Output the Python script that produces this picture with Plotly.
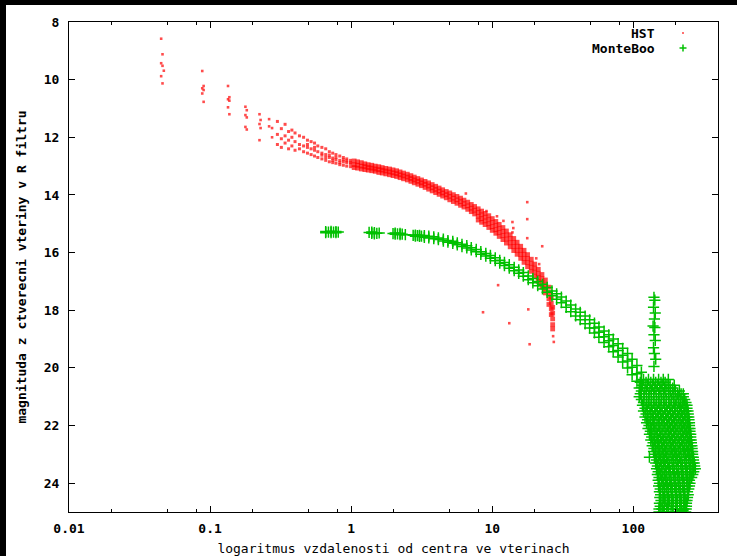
import plotly.graph_objects as go

# ---------------- HST (red dots) ----------------
# sparse bright stars near the centre: (distance ["], [R magnitudes])
hst_inner = [
    (0.045, [8.58, 9.43, 9.88]),
    (0.046, [9.12, 9.52, 10.13]),
    (0.047, [9.69]),
    (0.088, [9.70, 10.30, 10.48]),
    (0.090, [10.22, 10.36, 10.77]),
    (0.134, [10.22, 10.68, 10.96]),
    (0.137, [10.61, 10.73, 11.20]),
    (0.178, [10.94, 11.23, 11.64]),
    (0.182, [11.06, 11.31, 11.73]),
    (0.224, [11.20, 11.54, 12.10]),
    (0.228, [11.40, 11.68]),
    (0.262, [11.37, 11.62]),
    (0.275, [11.68, 12.00]),
]

# scattered part of the HST sequence: (distance ["], [R magnitudes])
hst_sparse = [
    (0.30, [11.45, 11.90, 12.25]), (0.32, [11.70, 12.05, 12.35]),
    (0.34, [11.55, 11.95, 12.20]), (0.36, [11.80, 12.10, 12.40]),
    (0.38, [11.75, 12.00, 12.30]), (0.40, [11.85, 12.15, 12.45]),
    (0.43, [11.95, 12.25, 12.40]), (0.46, [12.00, 12.30, 12.50]),
    (0.49, [12.10, 12.25, 12.35, 12.55]), (0.52, [12.15, 12.40, 12.60]),
    (0.55, [12.20, 12.35, 12.45, 12.65]), (0.58, [12.30, 12.50, 12.70]),
    (0.62, [12.35, 12.55, 12.62, 12.75]), (0.66, [12.40, 12.60, 12.70, 12.80]),
    (0.70, [12.50, 12.62, 12.70, 12.85]), (0.74, [12.55, 12.72, 12.80, 12.88]),
    (0.78, [12.60, 12.70, 12.78, 12.90]), (0.83, [12.65, 12.80, 12.88, 12.95]),
    (0.88, [12.70, 12.78, 12.85, 12.97]), (0.93, [12.75, 12.82, 12.88, 13.00]),
    (0.99, [12.80, 12.87, 12.92, 13.02]),
]

# dense part of the HST sequence: (distance ["], [R magnitudes])
hst_band = [
    (1.05, [12.82, 12.95, 13.05]),
    (1.11, [12.85, 12.97, 13.07]), (1.18, [12.88, 13.00, 13.10]),
    (1.25, [12.92, 13.02, 13.12]), (1.32, [12.95, 13.05, 13.14]),
    (1.40, [12.97, 13.07, 13.16]), (1.48, [13.00, 13.10, 13.18]),
    (1.57, [13.02, 13.12, 13.22]), (1.66, [13.05, 13.14, 13.24]),
    (1.76, [13.08, 13.17, 13.27]), (1.87, [13.10, 13.20, 13.30]),
    (1.98, [13.13, 13.23, 13.33]), (2.10, [13.16, 13.26, 13.36]),
    (2.22, [13.20, 13.30, 13.40]), (2.35, [13.24, 13.34, 13.44]),
    (2.50, [13.28, 13.38, 13.48]), (2.65, [13.33, 13.43, 13.53]),
    (2.80, [13.38, 13.48, 13.58]), (2.97, [13.43, 13.53, 13.63]),
    (3.15, [13.48, 13.58, 13.68]), (3.34, [13.53, 13.63, 13.74]),
    (3.54, [13.58, 13.69, 13.80]), (3.75, [13.64, 13.75, 13.86]),
    (3.97, [13.70, 13.81, 13.92]), (4.20, [13.76, 13.87, 13.98]),
    (4.45, [13.82, 13.93, 14.04]), (4.72, [13.88, 13.99, 14.10]),
    (5.00, [13.93, 14.05, 14.17]), (5.30, [13.99, 14.11, 14.23]),
    (5.62, [14.05, 14.17, 14.29]), (5.96, [14.11, 14.23, 14.36]),
    (6.30, [14.18, 14.30, 14.42]), (6.70, [14.25, 14.38, 14.50]),
    (7.10, [14.33, 14.46, 14.58]), (7.50, [14.40, 14.53, 14.66]),
    (7.95, [14.48, 14.61, 14.74, 14.87]), (8.40, [14.56, 14.69, 14.82, 14.95]),
    (8.90, [14.64, 14.77, 14.90, 15.03]), (9.45, [14.72, 14.86, 15.00, 15.13]),
    (10.0, [14.82, 14.96, 15.10, 15.23]), (10.6, [14.92, 15.06, 15.20, 15.33]),
    (11.2, [15.02, 15.16, 15.30, 15.44]), (11.9, [15.13, 15.27, 15.41, 15.55]),
    (12.6, [15.25, 15.39, 15.53, 15.67]), (13.4, [15.38, 15.52, 15.66, 15.80]),
    (14.2, [15.51, 15.65, 15.79, 15.93]), (15.0, [15.64, 15.78, 15.92, 16.06]),
    (15.9, [15.78, 15.92, 16.06, 16.20]), (16.8, [15.92, 16.06, 16.20, 16.34]),
    (17.8, [16.07, 16.21, 16.35, 16.49]), (18.9, [16.23, 16.37, 16.51, 16.65]),
    (20.0, [16.40, 16.54, 16.68, 16.82]), (21.2, [16.58, 16.72, 16.86, 17.00]),
    (22.5, [16.76, 16.90, 17.04, 17.18]), (23.8, [16.95, 17.10, 17.25, 17.40]),
    (25.2, [17.20, 17.40, 17.60, 17.80]), (26.2, [17.55, 17.75, 17.95, 18.15]),
    (26.8, [17.90, 18.10, 18.30, 18.50, 18.65]),
]

hst_out_x = [17.7, 17.7, 17.7, 13.9, 13.9, 22.6, 10.8, 11.0, 8.6, 13.2, 18.0, 18.4,
             27.3, 9.1, 14.1, 20.5, 21.5, 27.0, 6.5, 12.0]
hst_out_y = [14.25, 14.84, 15.50, 14.94, 15.30, 15.78, 14.74, 17.13, 18.07, 18.45, 17.97, 19.18,
             19.10, 14.56, 15.15, 16.20, 16.40, 18.90, 13.95, 14.90]

# ---------------- MonteBoo (green plus) ----------------
mb_clumps = [
    (0.66, [15.27, 15.31]), (0.69, [15.29]), (0.72, [15.26, 15.31]), (0.75, [15.29]),
    (0.78, [15.27, 15.31]), (0.81, [15.29]),
    (1.34, [15.30]), (1.40, [15.29, 15.33]), (1.46, [15.31, 15.35]), (1.52, [15.33]), (1.58, [15.32]),
    (1.98, [15.34]), (2.05, [15.32, 15.36]), (2.13, [15.35]), (2.22, [15.33, 15.38]),
    (2.30, [15.36]), (2.42, [15.38]),
    (2.75, [15.40]), (2.85, [15.39, 15.43]), (2.95, [15.41]), (3.05, [15.40, 15.44]), (3.15, [15.43]),
]

mb_band = [
    (3.30, [15.41, 15.47]), (3.55, [15.43, 15.49]), (3.85, [15.45, 15.52]),
    (4.15, [15.49, 15.55]), (4.50, [15.53, 15.60]), (4.85, [15.58, 15.64]),
    (5.25, [15.61, 15.68]), (5.65, [15.66, 15.73]), (6.10, [15.71, 15.79]),
    (6.60, [15.76, 15.84]), (7.10, [15.83, 15.91]), (7.70, [15.89, 15.97]),
    (8.30, [15.97, 16.06]), (9.00, [16.03, 16.12]), (9.70, [16.10, 16.20]),
    (10.5, [16.18, 16.28]), (11.3, [16.27, 16.37]), (12.2, [16.34, 16.45]),
    (13.2, [16.42, 16.54]), (14.3, [16.51, 16.63]), (15.4, [16.60, 16.72]),
    (16.6, [16.69, 16.82]), (18.0, [16.81, 16.94]), (19.4, [16.90, 17.05]),
    (21.0, [17.00, 17.15]), (22.7, [17.10, 17.26]), (24.5, [17.21, 17.38]),
    (26.5, [17.33, 17.50]), (28.6, [17.43, 17.62]), (30.9, [17.54, 17.74]),
    (33.4, [17.68, 17.90]), (36.0, [17.82, 18.05]), (39.0, [17.96, 18.20]),
    (42.0, [18.07, 18.33]), (45.5, [18.20, 18.47]), (49.0, [18.33, 18.62]),
    (53.0, [18.45, 18.62, 18.79]), (57.0, [18.58, 18.76, 18.94]),
    (62.0, [18.72, 18.92, 19.12]), (67.0, [18.85, 19.06, 19.27]),
    (72.0, [19.00, 19.22, 19.44]), (78.0, [19.16, 19.40, 19.62]),
    (84.0, [19.32, 19.56, 19.80]), (91.0, [19.50, 19.76, 20.00]),
    (98.0, [19.70, 19.98, 20.24]), (106.0, [19.92, 20.20, 20.46]),
    (114.0, [20.15, 20.42, 20.68]),
]

# outer blob, main rows: (R magnitude, [distances ["]])
mb_blob = [
    (20.4, [118, 128, 139, 151, 163]),
    (20.6, [116, 126, 137, 148, 160, 173, 182]),
    (20.8, [114, 124, 134, 145, 157, 170, 184, 199]),
    (21.0, [110, 119, 129, 140, 152, 165, 179, 194, 210, 226]),
    (21.2, [118, 128, 139, 151, 164, 178, 193, 208, 224, 236]),
    (21.4, [121, 131, 142, 154, 167, 181, 196, 212, 228, 240]),
    (21.6, [123, 133, 144, 156, 169, 183, 198, 214, 231, 245]),
    (21.8, [126, 136, 147, 159, 172, 186, 201, 217, 233, 248]),
    (22.0, [129, 139, 150, 162, 175, 189, 204, 220, 236, 250]),
    (22.2, [132, 142, 153, 165, 178, 192, 207, 223, 239, 252]),
    (22.4, [135, 145, 156, 168, 181, 195, 210, 226, 242, 255]),
    (22.6, [138, 148, 159, 171, 184, 198, 213, 229, 245, 258]),
    (22.8, [140, 150, 161, 173, 186, 200, 215, 231, 247, 261]),
    (23.0, [143, 153, 164, 176, 189, 203, 218, 234, 250, 263]),
    (23.2, [146, 156, 167, 179, 192, 206, 221, 237, 253, 267]),
    (23.4, [148, 158, 169, 181, 194, 208, 223, 239, 256, 272]),
    (23.6, [150, 160, 171, 183, 196, 210, 225, 241, 256, 268]),
    (23.8, [152, 162, 173, 185, 198, 212, 227, 243, 259]),
    (24.0, [153, 164, 175, 187, 200, 214, 229, 244, 252]),
    (24.2, [155, 166, 177, 189, 202, 216, 231, 247]),
    (24.4, [156, 167, 178, 190, 203, 217, 232, 245]),
    (24.6, [157, 168, 180, 192, 205, 219, 233, 240]),
    (24.8, [155, 166, 178, 191, 204, 218, 230, 238]),
    (25.0, [152, 163, 176, 190, 205, 220, 235]),
]

# outer blob, in-between rows
mb_blob_mid = [
    (20.5, [112, 123, 133, 144, 157, 168]),
    (20.7, [110, 121, 131, 142, 154, 166, 178, 190]),
    (20.9, [112, 119, 129, 139, 151, 163, 177, 191, 206, 218]),
    (21.1, [114, 124, 134, 146, 158, 171, 186, 201, 217, 231]),
    (21.3, [116, 124, 134, 145, 157, 171, 185, 200, 216, 232, 240]),
    (21.5, [118, 126, 136, 148, 160, 174, 189, 205, 220, 236, 244]),
    (21.7, [121, 129, 139, 151, 163, 177, 192, 208, 224, 240, 247]),
    (21.9, [124, 132, 142, 154, 166, 180, 195, 211, 226, 242, 250]),
    (22.1, [127, 135, 145, 157, 170, 183, 198, 214, 230, 245, 252]),
    (22.3, [130, 138, 148, 160, 173, 186, 201, 217, 233, 248, 255]),
    (22.5, [133, 141, 151, 163, 176, 189, 204, 220, 236, 251, 257]),
    (22.7, [136, 144, 154, 166, 179, 192, 207, 223, 239, 254, 260]),
    (22.9, [139, 147, 157, 169, 182, 195, 210, 226, 242, 257, 263]),
    (23.1, [141, 150, 160, 172, 185, 198, 213, 229, 245, 260, 266]),
    (23.3, [144, 152, 163, 175, 188, 201, 216, 232, 248, 264, 270]),
    (23.5, [146, 154, 165, 177, 190, 203, 218, 234, 250, 265, 275]),
    (23.7, [148, 156, 167, 179, 192, 205, 220, 236, 252, 264]),
    (23.9, [150, 158, 169, 181, 194, 207, 222, 238, 250]),
    (24.1, [151, 160, 171, 183, 196, 209, 224, 240, 250]),
    (24.3, [153, 162, 173, 185, 198, 211, 226, 242]),
    (24.5, [154, 163, 175, 187, 200, 213, 228, 242]),
    (24.7, [153, 162, 174, 187, 200, 214, 228, 238]),
    (24.9, [152, 160, 172, 185, 199, 213, 228, 237]),
]

mb_streak_x = [140, 142, 139, 143, 141, 138, 142, 140, 143, 139, 141, 144, 140]
mb_streak_y = [17.55, 17.65, 17.90, 18.10, 18.30, 18.55, 18.60, 18.85, 19.05, 19.30, 19.50, 19.70, 19.95]

mb_out_x = [130, 226, 177, 195, 212, 160, 225]
mb_out_y = [23.10, 20.90, 20.40, 20.60, 20.80, 24.90, 24.95]

x_tick_vals = [0.01, 0.1, 1, 10, 100]
x_tick_text = ["0.01", "0.1", "1", "10", "100"]
x_minor_vals = [0.02, 0.05, 0.08, 0.2, 0.5, 0.8, 2, 5, 8, 20, 50, 80, 200]
y_tick_vals = [8, 10, 12, 14, 16, 18, 20, 22, 24]


def from_columns(cols):
    xs, ys = [], []
    for x, yl in cols:
        for y in yl:
            xs.append(x)
            ys.append(y)
    return xs, ys


def from_rows(rows):
    xs, ys = [], []
    for y, xl in rows:
        for x in xl:
            xs.append(x)
            ys.append(y)
    return xs, ys


hx1, hy1 = from_columns(hst_inner)
hx2, hy2 = from_columns(hst_sparse)
hx3, hy3 = from_columns(hst_band)
hst_x = hx1 + hx2 + hx3 + hst_out_x
hst_y = hy1 + hy2 + hy3 + hst_out_y
# dot size: tiny for isolated stars, larger where the sequence is dense
hst_size = [2.6] * len(hx1) + [3.0] * len(hx2) + [4.8] * len(hx3) + [2.6] * len(hst_out_x)

mx1, my1 = from_columns(mb_clumps)
mx2, my2 = from_columns(mb_band)
mx3, my3 = from_rows(mb_blob)
mx4, my4 = from_rows(mb_blob_mid)
mb_x = mx1 + mx2 + mx3 + mx4 + mb_streak_x + mb_out_x
mb_y = my1 + my2 + my3 + my4 + mb_streak_y + mb_out_y

RED = "#ff0000"
GREEN = "#00c000"
MONO = "DejaVu Sans Mono"

fig = go.Figure()
fig.add_trace(go.Scatter(
    x=hst_x, y=hst_y, mode="markers", name="HST", showlegend=False,
    marker=dict(symbol="square", size=hst_size, color=RED, line=dict(width=0)),
))
fig.add_trace(go.Scatter(
    x=mb_x, y=mb_y, mode="markers", name="MonteBoo", showlegend=False,
    marker=dict(symbol="cross-thin", size=8, color=GREEN, line=dict(width=1.5, color=GREEN)),
))

# page has a black strip 5px at the top and 6px at the left (added as page borders);
# figure itself is the remaining area. Plot area in page pixels: x 69..718, y 22..512
TOPBAR, LEFTBAR = 5, 6
W, H = 737 - LEFTBAR, 556 - TOPBAR
L, R, T, B = 69 - LEFTBAR, 718 - LEFTBAR, 22 - TOPBAR, 512 - TOPBAR


def px(xp):
    # page pixel x -> paper
    return (xp - LEFTBAR - L) / (R - L)


def py(yp):
    # page pixel y -> paper
    return (B - (yp - TOPBAR)) / (B - T)


shapes = [
    # legend samples
    dict(type="rect", xref="paper", yref="paper", x0=px(682), x1=px(684), y0=py(34), y1=py(32),
         fillcolor="#ff7070", line=dict(width=0)),
    dict(type="line", xref="paper", yref="paper", x0=px(679.5), x1=px(686.5), y0=py(48), y1=py(48),
         line=dict(color=GREEN, width=1.5)),
    dict(type="line", xref="paper", yref="paper", x0=px(683), x1=px(683), y0=py(44.5), y1=py(51.5),
         line=dict(color=GREEN, width=1.5)),
]

annotations = [
    dict(text="<b>HST</b>", xref="paper", yref="paper", x=px(657), y=py(33.5),
         xanchor="right", yanchor="middle", showarrow=False,
         font=dict(family=MONO, size=13, color="black")),
    dict(text="<b>MonteBoo</b>", xref="paper", yref="paper", x=px(657), y=py(48.5),
         xanchor="right", yanchor="middle", showarrow=False,
         font=dict(family=MONO, size=13, color="black")),
]

fig.update_layout(
    template="none",
    width=W, height=H,
    margin=dict(l=L, r=W - R, t=T, b=H - B, pad=0),
    paper_bgcolor="white", plot_bgcolor="white",
    showlegend=False,
    shapes=shapes,
    annotations=annotations,
    xaxis=dict(
        type="log", range=[-2, 2.6],
        tickmode="array", tickvals=x_tick_vals, ticktext=x_tick_text,
        ticks="inside", ticklen=6, tickwidth=1, tickcolor="black",
        minor=dict(tickmode="array", tickvals=x_minor_vals, ticks="inside",
                   ticklen=3, tickwidth=1, tickcolor="black", showgrid=False),
        showline=True, linecolor="black", linewidth=1, mirror="ticks",
        showgrid=False, zeroline=False, automargin=False,
        ticklabelstandoff=4,
        tickfont=dict(family=MONO, size=13, color="black", weight="bold"),
        title=dict(text="logaritmus vzdalenosti od centra ve vterinach",
                   font=dict(family=MONO, size=13, color="black"), standoff=12),
    ),
    yaxis=dict(
        range=[25, 8],
        tickmode="array", tickvals=y_tick_vals,
        ticks="inside", ticklen=6, tickwidth=1, tickcolor="black",
        showline=True, linecolor="black", linewidth=1, mirror="ticks",
        showgrid=False, zeroline=False, automargin=False,
        ticklabelstandoff=6,
        tickfont=dict(family=MONO, size=13, color="black", weight="bold"),
        title=dict(text="magnituda z ctverecni vteriny v R filtru",
                   font=dict(family=MONO, size=13, color="black", weight="bold"), standoff=14),
    ),
)

page_style = (
    "var b=document.body;"
    "b.style.margin='0';b.style.overflow='hidden';b.style.background='white';"
    "b.style.borderTop='%dpx solid black';b.style.borderLeft='%dpx solid black';"
) % (TOPBAR, LEFTBAR)

fig.write_html(
    "out.html",
    config={"displayModeBar": False},
    post_script=page_style,
)
